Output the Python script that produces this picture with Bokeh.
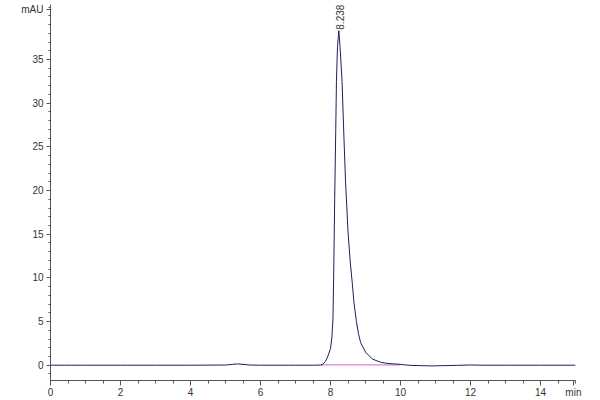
from math import pi
from bokeh.plotting import figure
from bokeh.models import FixedTicker, Label
from bokeh.embed import file_html
from bokeh.resources import INLINE

# chromatogram trace (time in min, signal in mAU)
time_min = [0.0, 0.4, 1.0, 2.0, 3.0, 4.0, 5.0, 5.2, 5.35, 5.5, 5.7, 6.0, 7.0, 7.5,
            7.73, 7.79, 7.85, 7.89, 7.95, 8.0, 8.04, 8.07, 8.09, 8.12, 8.15, 8.17,
            8.2, 8.238, 8.28, 8.33, 8.38, 8.43, 8.5, 8.56, 8.62, 8.67, 8.74, 8.8,
            8.86, 9.0, 9.19, 9.43, 9.6, 9.8, 10.0, 10.15, 10.3, 10.6, 10.9, 11.2,
            11.6, 12.0, 12.3, 13.0, 14.0, 15.0]
signal_mau = [0.0, 0.0, 0.0, 0.0, 0.0, 0.0, 0.02, 0.1, 0.15, 0.1, 0.02, 0.0, 0.0, 0.0,
              0.02, 0.15, 0.4, 0.72, 1.3, 1.9, 3.2, 5.3, 10.0, 19.0, 27.0, 32.5,
              36.5, 38.3, 36.0, 32.5, 26.5, 21.0, 15.3, 12.0, 9.5, 7.2, 5.0, 3.6,
              2.6, 1.5, 0.72, 0.34, 0.22, 0.15, 0.1, 0.03, -0.02, -0.05, -0.08, -0.05,
              -0.02, 0.03, 0.0, 0.0, 0.0, 0.0]

# integration baseline under the peak
base_t = [7.73, 10.0]
base_v = [0.05, 0.05]

# peak annotation
peak_rt = 8.238
peak_h = 38.3
peak_text = "8.238"

# axis ticks (the unit names sit at the axis ends, as tick labels)
x_ticks = [0, 2, 4, 6, 8, 10, 12, 14]
x_minor = [0, 0.5, 1, 1.5, 2, 2.5, 3, 3.5, 4, 4.5, 5, 5.5, 6, 6.5, 7, 7.5, 8, 8.5,
           9, 9.5, 10, 10.5, 11, 11.5, 12, 12.5, 13, 13.5, 14, 14.5, 15]
y_ticks = [0, 5, 10, 15, 20, 25, 30, 35]
y_minor = [-1, 0, 1, 2, 3, 4, 5, 6, 7, 8, 9, 10, 11, 12, 13, 14, 15, 16, 17, 18,
           19, 20, 21, 22, 23, 24, 25, 26, 27, 28, 29, 30, 31, 32, 33, 34, 35, 36,
           37, 38, 39, 40, 41]
x_unit, x_unit_pos = "min", 14.94
y_unit, y_unit_pos = "mAU", 40.7

FONT = "Liberation Sans Narrow, Liberation Sans, Arial, sans-serif"
INK = "#333333"

p = figure(width=600, height=400, output_backend="svg", toolbar_location=None,
           x_range=(0, 15), y_range=(-1.75, 41.3),
           min_border_left=50, min_border_right=25, min_border_top=4,
           min_border_bottom=0)
p.outline_line_color = None
p.xgrid.visible = False
p.ygrid.visible = False
p.background_fill_color = "white"
p.border_fill_color = "white"

for ax, ticks, minor, unit, upos in ((p.xaxis[0], x_ticks, x_minor, x_unit, x_unit_pos),
                                      (p.yaxis[0], y_ticks, y_minor, y_unit, y_unit_pos)):
    ax.ticker = FixedTicker(ticks=ticks + [upos], minor_ticks=minor)
    ax.major_label_overrides = {upos: unit}
    ax.axis_line_color = "#555555"
    ax.major_tick_line_color = "#555555"
    ax.minor_tick_line_color = "#555555"
    ax.major_tick_in = 0
    ax.minor_tick_in = 0
    ax.axis_label_standoff = 0
    ax.major_label_text_font = FONT
    ax.major_label_text_font_size = "10px"
    ax.major_label_text_color = INK

p.xaxis.major_tick_out = 5
p.xaxis.minor_tick_out = 3
p.xaxis.major_label_standoff = 1
p.yaxis.major_tick_out = 4
p.yaxis.minor_tick_out = 2
p.yaxis.major_label_standoff = 3

p.line(base_t, base_v, line_color="#e07ee0", line_width=1.3)
p.line(time_min, signal_mau, line_color="#1e1e64", line_width=1)

p.add_layout(Label(x=peak_rt, y=peak_h, text=peak_text, angle=pi / 2,
                   text_align="left", text_baseline="middle", x_offset=1, y_offset=1,
                   text_font=FONT, text_font_size="10px", text_color=INK))

open("out.html", "w").write(file_html(p, INLINE))
